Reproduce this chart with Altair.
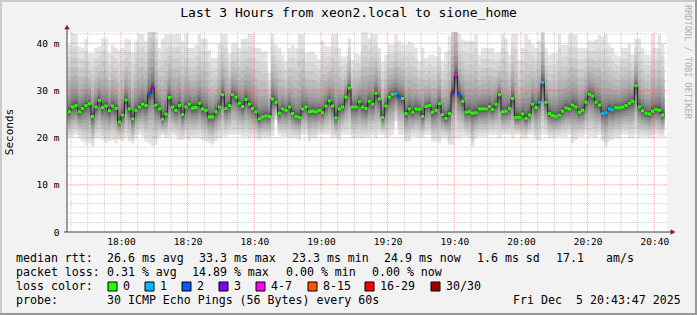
import altair as alt
import pandas as pd

# ---------------- data ----------------
FIRST_STEP = 1064          # minutes after midnight of the first 1-minute step (17:44)
X_START, X_END = 1063.8, 1243.8   # 17:43:48 .. 20:43:48
X_TICKS = [1080, 1100, 1120, 1140, 1160, 1180, 1200, 1220, 1240]
Y_TICKS = [0, 10, 20, 30, 40]

# median rtt per step (ms)
MEDIAN = [
    25.5, 26.5, 26.8, 25.5, 26.2, 26.8, 27.2, 24.5, 26.5, 27.9,
    26.4, 26.7, 25.7, 26.7, 26.2, 23.3, 24.8, 28.0, 26.1, 24.0,
    25.8, 26.5, 27.1, 26.8, 29.2, 30.5, 26.9, 26.1, 23.9, 25.0,
    28.5, 26.5, 25.8, 26.8, 24.9, 26.5, 27.1, 26.3, 26.4, 27.3,
    26.1, 25.8, 24.4, 24.4, 25.5, 26.5, 29.1, 26.2, 26.8, 29.1,
    28.6, 27.3, 26.6, 28.1, 27.1, 26.2, 25.5, 24.0, 24.4, 24.6,
    24.5, 28.2, 27.5, 25.2, 26.1, 25.8, 26.5, 25.1, 24.5, 24.3,
    26.1, 26.5, 25.5, 25.6, 25.5, 25.8, 25.3, 26.7, 27.8, 26.7,
    24.2, 26.1, 26.5, 28.6, 30.5, 26.5, 26.5, 27.6, 26.5, 26.2,
    27.7, 27.1, 29.4, 28.2, 24.3, 26.7, 28.6, 29.2, 29.4, 28.7,
    28.3, 25.1, 26.1, 25.4, 26.1, 26.0, 24.5, 26.6, 26.8, 25.4,
    25.8, 27.2, 24.9, 24.1, 25.1, 29.6, 33.3, 29.1, 27.7, 25.4,
    25.5, 25.2, 25.3, 26.1, 26.1, 26.1, 26.6, 26.0, 27.1, 29.1,
    25.5, 25.6, 26.2, 28.3, 24.3, 24.3, 25.0, 24.1, 24.8, 27.1,
    26.4, 27.5, 31.7, 27.5, 25.1, 24.7, 24.5, 24.8, 25.6, 26.3,
    26.1, 26.9, 26.5, 25.4, 25.8, 27.5, 29.2, 28.8, 27.5, 26.9,
    25.1, 25.3, 26.1, 25.9, 26.4, 26.3, 26.5, 26.8, 27.3, 27.7,
    31.0, 26.5, 25.7, 25.2, 25.0, 25.6, 26.0, 25.8, 24.8,
]

# lowest and highest ping of each step (outer edge of the smoke, ms)
SMOKE_LO = [
    19.9, 20.2, 20.6, 19.9, 19.2, 18.5, 18.8, 18.1, 19.9, 19.9,
    19.5, 18.8, 19.2, 19.5, 18.8, 19.5, 19.2, 19.9, 19.2, 18.8,
    19.9, 20.6, 20.2, 19.2, 18.8, 18.1, 18.5, 19.9, 20.6, 19.9,
    20.2, 20.6, 20.2, 19.5, 19.5, 19.9, 19.5, 19.9, 19.9, 19.9,
    19.5, 19.2, 18.8, 18.5, 19.2, 19.9, 20.2, 20.2, 20.6, 20.6,
    20.6, 20.6, 20.2, 20.2, 19.9, 20.2, 19.9, 19.5, 19.9, 19.9,
    19.9, 20.4, 23.8, 20.6, 20.2, 20.2, 19.9, 19.9, 19.9, 19.5,
    20.6, 20.6, 19.2, 19.9, 19.9, 20.6, 20.6, 20.6, 20.6, 19.9,
    19.9, 19.5, 20.6, 20.6, 20.6, 19.9, 19.9, 19.9, 19.9, 19.9,
    20.2, 20.6, 19.9, 20.6, 20.6, 19.9, 20.2, 20.6, 23.5, 20.6,
    20.6, 19.2, 19.2, 20.2, 20.2, 19.9, 19.9, 20.6, 20.6, 19.2,
    19.2, 18.8, 19.9, 19.9, 18.5, 18.5, 19.9, 19.9, 20.2, 20.2,
    19.9, 18.1, 19.9, 20.2, 20.2, 20.2, 20.6, 20.6, 20.6, 19.9,
    20.6, 20.6, 20.6, 19.9, 20.6, 20.6, 19.9, 19.9, 20.6, 20.6,
    19.5, 19.5, 20.6, 20.6, 19.9, 19.9, 20.2, 20.2, 20.2, 20.2,
    20.6, 18.8, 19.5, 20.2, 20.2, 20.6, 20.2, 20.2, 19.9, 20.6,
    19.2, 18.1, 19.2, 19.5, 19.9, 19.9, 20.6, 20.6, 19.9, 19.9,
    20.6, 19.9, 20.2, 20.2, 19.9, 19.9, 20.6, 20.2, 20.2,
]
SMOKE_HI = [
    39.7, 42.2, 42.0, 39.3, 39.0, 41.0, 37.9, 37.9, 39.0, 39.3,
    41.0, 41.0, 37.9, 39.7, 39.0, 38.6, 39.0, 41.0, 40.8, 38.2,
    40.5, 42.0, 42.0, 40.5, 47.0, 49.0, 44.0, 39.0, 41.0, 42.0,
    41.8, 41.8, 42.0, 42.0, 40.5, 42.0, 39.0, 39.0, 39.7, 42.0,
    41.0, 41.0, 38.6, 36.9, 36.9, 40.0, 42.0, 42.0, 37.9, 40.0,
    40.0, 39.0, 41.0, 41.0, 42.0, 42.0, 39.0, 39.0, 38.2, 38.2,
    33.7, 42.0, 39.7, 39.0, 37.6, 36.2, 39.0, 39.7, 39.0, 42.0,
    41.8, 37.9, 38.2, 38.2, 37.6, 36.5, 40.5, 39.3, 39.3, 42.0,
    42.0, 39.0, 37.2, 37.2, 41.0, 36.5, 37.9, 37.6, 42.5, 42.5,
    41.1, 42.0, 42.0, 39.0, 36.2, 37.6, 39.7, 39.7, 42.0, 40.5,
    39.7, 39.7, 40.5, 40.0, 39.0, 36.2, 39.0, 36.9, 37.6, 37.6,
    37.2, 39.3, 36.2, 38.2, 41.5, 48.0, 50.0, 42.0, 40.8, 40.5,
    40.5, 40.5, 42.0, 37.6, 39.0, 39.0, 39.0, 39.0, 37.9, 38.2,
    42.0, 41.0, 37.6, 42.0, 42.0, 36.5, 39.0, 42.0, 40.8, 39.7,
    39.0, 40.5, 47.0, 39.0, 37.6, 37.9, 37.9, 42.0, 39.7, 39.7,
    42.0, 42.0, 41.8, 39.0, 39.0, 39.0, 40.5, 40.5, 40.8, 41.8,
    41.5, 42.0, 39.7, 39.0, 37.6, 37.2, 39.0, 39.0, 40.0, 37.6,
    41.0, 41.0, 39.0, 37.6, 37.6, 42.0, 39.0, 41.8, 40.0,
]

# lost pings (of 30) for the steps that had loss: step index -> count
LOSS_EVENTS = {24: 2, 25: 3, 98: 1, 99: 2, 115: 3, 116: 4, 117: 2,
               141: 1, 142: 1, 160: 1, 161: 1, 162: 1, 163: 1}

LOSS_LABELS = ["0", "1", "2", "3", "4-7", "8-15", "16-29", "30/30"]
LOSS_COLORS = ["#26ff00", "#00b8ff", "#0059ff", "#7e00ff",
               "#ff00ff", "#ff5500", "#ff0000", "#a10000"]

TITLE = "Last 3 Hours from xeon2.local to sione_home"
RTT_ITEMS = ["26.6 ms avg", "33.3 ms max", "23.3 ms min", "24.9 ms now", "1.6 ms sd", "17.1", "am/s"]
LOSS_ITEMS = ["0.31 % avg", "14.89 % max", "0.00 % min", "0.00 % now"]
PROBE_TEXT = "30 ICMP Echo Pings (56 Bytes) every 60s"
DATE_PARTS = ["Fri Dec", "5 20:43:47 2025"]

# ---------------- styling constants ----------------
FONT = "DejaVu Sans Mono"
# smoke layers: outermost (light) .. innermost (dark)
SMOKE_GRAYS = ["#e3e3e3", "#d6d6d6", "#cacaca", "#bdbdbd", "#b0b0b0",
               "#a4a4a4", "#979797", "#8a8a8a", "#7e7e7e", "#717171",
               "#646464", "#585858", "#4b4b4b", "#3e3e3e", "#323232"]
LOW_FRAC = [1.0, 0.87, 0.75, 0.64, 0.54, 0.44, 0.36, 0.28, 0.21, 0.16,
            0.11, 0.07, 0.045, 0.025, 0.01]
HIGH_FRAC = [1.0, 0.82, 0.67, 0.535, 0.42, 0.32, 0.24, 0.175, 0.125,
             0.085, 0.058, 0.038, 0.022, 0.011, 0.004]

assert len(MEDIAN) == len(SMOKE_LO) == len(SMOKE_HI)
N = len(MEDIAN)


def loss_class(lost):
    if lost <= 3:
        return lost
    if lost <= 7:
        return 4
    if lost <= 15:
        return 5
    if lost <= 29:
        return 6
    return 7


rows = []
for k in range(N + 1):
    j = min(k, N - 1)
    med, lo, hi = MEDIAN[j], SMOKE_LO[j], SMOKE_HI[j]
    r = {"t": FIRST_STEP + k, "t2": FIRST_STEP + k + 1, "med": med,
         "seg": 1 if k < N else 0,
         "lc": LOSS_COLORS[loss_class(LOSS_EVENTS.get(j, 0))]}
    for i in range(len(SMOKE_GRAYS)):
        r[f"l{i}"] = med - (med - lo) * LOW_FRAC[i]
        r[f"u{i}"] = med + (hi - med) * HIGH_FRAC[i]
    rows.append(r)
df = pd.DataFrame(rows)

xs = alt.Scale(domain=[X_START, X_END], nice=False, zero=False)
ys = alt.Scale(domain=[0, 42.4], nice=False, zero=False)
xax = alt.Axis(values=X_TICKS, grid=False, domain=False, ticks=False, title=None,
               labelExpr="floor(datum.value/60) + ':' + (datum.value % 60 < 10 ? '0' : '') + (datum.value % 60)",
               labelFont=FONT, labelFontSize=9.5, labelColor="#000000", labelPadding=4,
               labelFlush=False, labelOverlap=False)
yax = alt.Axis(values=Y_TICKS, grid=False, domain=False, ticks=False, title=None,
               labelExpr="datum.value == 0 ? '0' : datum.value + ' m'",
               labelFont=FONT, labelFontSize=9.5, labelColor="#000000", labelPadding=8,
               labelOverlap=False)

base = alt.Chart(df)
layers = []
for i, g in enumerate(SMOKE_GRAYS):
    layers.append(
        base.mark_area(interpolate="step-after", color=g, clip=True).encode(
            x=alt.X("t:Q", scale=xs, axis=xax),
            y=alt.Y(f"l{i}:Q", scale=ys, axis=yax),
            y2=f"u{i}:Q",
        )
    )

# grid
MINOR_X = [m for m in range(1065, 1244, 5) if m % 20 != 0]
MAJOR_X = X_TICKS
MINOR_Y = [v for v in range(2, 43, 2) if v % 10 != 0]
MAJOR_Y = [10, 20, 30, 40]
layers.append(alt.Chart(pd.DataFrame({"t": MINOR_X})).mark_rule(
    color="#8c8c8c", opacity=0.45, strokeDash=[1, 1], strokeWidth=1).encode(
    x=alt.X("t:Q", scale=xs, axis=xax)))
layers.append(alt.Chart(pd.DataFrame({"v": MINOR_Y})).mark_rule(
    color="#8c8c8c", opacity=0.45, strokeDash=[1, 1], strokeWidth=1).encode(
    y=alt.Y("v:Q", scale=ys, axis=yax)))
layers.append(alt.Chart(pd.DataFrame({"t": MAJOR_X})).mark_rule(
    color="#e06060", opacity=0.55, strokeDash=[1, 1], strokeWidth=1).encode(
    x=alt.X("t:Q", scale=xs, axis=xax)))
layers.append(alt.Chart(pd.DataFrame({"v": MAJOR_Y})).mark_rule(
    color="#e06060", opacity=0.55, strokeDash=[1, 1], strokeWidth=1).encode(
    y=alt.Y("v:Q", scale=ys, axis=yax)))

# median line + loss-coloured median marks
layers.append(base.mark_line(interpolate="step-after", color="#202020", strokeWidth=1, clip=True).encode(
    x=alt.X("t:Q", scale=xs, axis=xax), y=alt.Y("med:Q", scale=ys, axis=yax)))
layers.append(base.transform_filter("datum.seg == 1").mark_rule(strokeWidth=3, strokeCap="butt").encode(
    x=alt.X("t:Q", scale=xs, axis=xax), x2="t2:Q",
    y=alt.Y("med:Q", scale=ys, axis=yax),
    color=alt.Color("lc:N", scale=None)))

ONE = pd.DataFrame({"o": [0]})
OX, OY = 67, 32   # plot origin in page pixels


def text(s, X, Y, size=11.6, align="left", angle=0, color="#000000"):
    return alt.Chart(ONE).mark_text(text=s, font=FONT, fontSize=size, align=align,
                                    baseline="middle", angle=angle, color=color).encode(
        x=alt.value(X - OX), y=alt.value(Y - OY))


def box(x1, y1, x2, y2, fill, stroke=None):
    kw = {"color": fill}
    if stroke:
        kw.update(stroke=stroke, strokeWidth=1)
    return alt.Chart(ONE).mark_rect(**kw).encode(
        x=alt.value(x1 - OX), x2=alt.value(x2 - OX), y=alt.value(y1 - OY), y2=alt.value(y2 - OY))


# axes lines and arrows
layers.append(alt.Chart(ONE).mark_rule(color="#404040", strokeWidth=1).encode(
    x=alt.value(0), y=alt.value(200), y2=alt.value(-3)))
layers.append(alt.Chart(ONE).mark_rule(color="#404040", strokeWidth=1).encode(
    x=alt.value(-3), x2=alt.value(604), y=alt.value(200)))
layers.append(alt.Chart(ONE).mark_point(shape="triangle-up", filled=True, size=30,
                                        color="#a01010", opacity=1).encode(
    x=alt.value(0), y=alt.value(-5)))
layers.append(alt.Chart(ONE).mark_point(shape="triangle-right", filled=True, size=30,
                                        color="#a01010", opacity=1).encode(
    x=alt.value(606), y=alt.value(200)))

# frame
layers.append(box(0, 0, 697, 2, "#cbcbcb"))
layers.append(box(0, 0, 2, 315, "#cbcbcb"))
layers.append(box(695, 0, 697, 315, "#999999"))
layers.append(box(0, 313, 697, 315, "#999999"))

# titles
layers.append(text(TITLE, 348.5, 13, size=13, align="center"))
layers.append(text("Seconds", 10, 132, size=11, align="center", angle=270))
layers.append(text("RRDTOOL / TOBI OETIKER", 688, 5, size=8.6, align="left", angle=90, color="#b0b0b0"))

# legend block
ROW_Y = [258.5, 272.5, 286.5, 300.5]
layers.append(text("median rtt:", 16, ROW_Y[0]))
for s, X in zip(RTT_ITEMS, [107, 199, 292, 384, 477, 556, 606]):
    layers.append(text(s, X, ROW_Y[0]))
layers.append(text("packet loss:", 16, ROW_Y[1]))
for s, X in zip(LOSS_ITEMS, [107, 192, 286, 372]):
    layers.append(text(s, X, ROW_Y[1]))
layers.append(text("loss color:", 16, ROW_Y[2]))
for lab, col, X in zip(LOSS_LABELS, LOSS_COLORS, [108, 145, 182, 219, 256, 308, 365, 431]):
    layers.append(box(X, ROW_Y[2] - 4.5, X + 9, ROW_Y[2] + 4.5, col, stroke="#000000"))
    layers.append(text(lab, X + 15, ROW_Y[2]))
layers.append(text("probe:", 16, ROW_Y[3]))
layers.append(text(PROBE_TEXT, 107, ROW_Y[3]))
layers.append(text(DATE_PARTS[0], 513, ROW_Y[3]))
layers.append(text(DATE_PARTS[1], 576, ROW_Y[3]))

chart = alt.layer(*layers).properties(
    width=600, height=200,
    autosize=alt.AutoSizeParams(type="none"),
    padding={"left": 67, "top": 32, "right": 30, "bottom": 83},
).configure(background="#f2f2f2").configure_view(fill="white", strokeWidth=0)

chart.save("out.html", embed_options={"renderer": "svg", "actions": False})
